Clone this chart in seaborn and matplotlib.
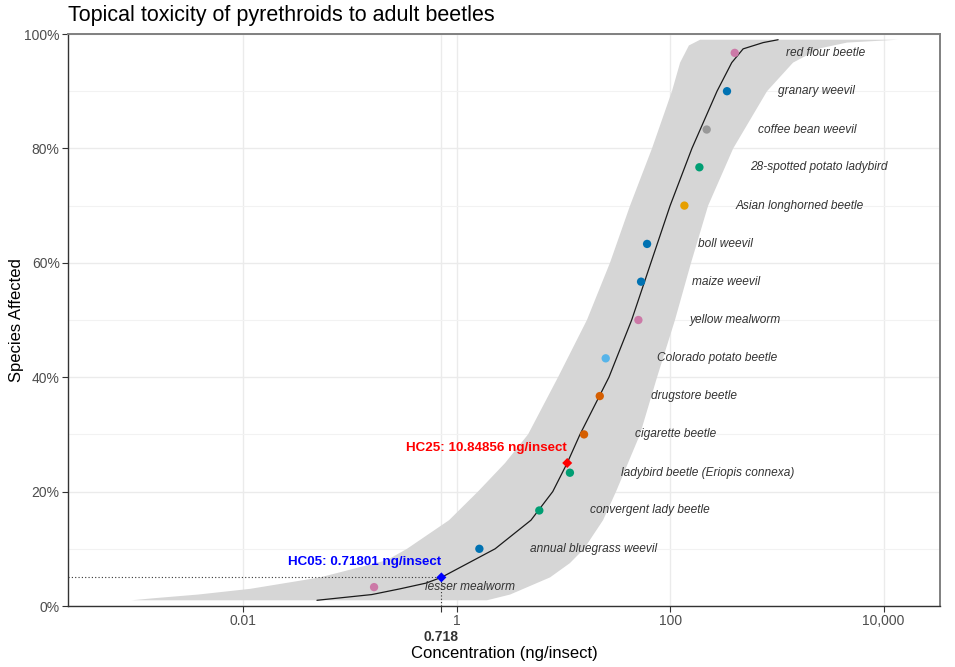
import numpy as np
import pandas as pd
import seaborn as sns
import matplotlib.pyplot as plt

# species sensitivity data
species = ["lesser mealworm", "annual bluegrass weevil", "convergent lady beetle",
           "ladybird beetle (Eriopis connexa)", "cigarette beetle", "drugstore beetle",
           "Colorado potato beetle", "yellow mealworm", "maize weevil", "boll weevil",
           "Asian longhorned beetle", "28-spotted potato ladybird", "coffee bean weevil",
           "granary weevil", "red flour beetle"]
conc = [0.168, 1.63, 5.94, 11.5, 15.6, 21.9, 24.9, 50.4, 53.4, 60.8, 136, 188, 220, 341, 403]
affected = [3.3, 10.0, 16.7, 23.3, 30.0, 36.7, 43.3, 50.0, 56.7, 63.3, 70.0, 76.7, 83.3, 90.0, 96.7]
family = ["Tenebrionidae", "Curculionidae", "Coccinellidae", "Coccinellidae", "Ptinidae",
          "Ptinidae", "Chrysomelidae", "Tenebrionidae", "Curculionidae", "Curculionidae",
          "Cerambycidae", "Coccinellidae", "Anthribidae", "Curculionidae", "Tenebrionidae"]
family_colors = {"Tenebrionidae": "#CC79A7", "Curculionidae": "#0072B2",
                 "Coccinellidae": "#009E73", "Ptinidae": "#D55E00",
                 "Chrysomelidae": "#56B4E9", "Cerambycidae": "#E69F00",
                 "Anthribidae": "#999999"}

# fitted curve
curve_pct = [1, 2, 3, 4, 5, 10, 15, 20, 25, 30, 40, 50, 60, 70, 80, 90, 95, 97.4, 98.5, 99]
curve_conc = [0.049, 0.160, 0.294, 0.515, 0.718, 2.29, 4.96, 7.94, 10.85, 14.3, 26.7,
              43.6, 66.0, 100, 160, 275, 378, 483, 745, 1028]

# confidence band edges
lower_pct = [1, 1.35, 2, 3, 5, 8, 10, 15, 20, 25, 30, 40, 50, 60, 70, 80, 90, 95, 98, 99]
lower_conc = [0.0009, 0.00143, 0.00376, 0.0116, 0.0524, 0.221, 0.342, 0.847, 1.58, 2.84,
              4.66, 8.90, 16.6, 27.3, 42.1, 67.6, 104, 124, 150, 191]
upper_pct = [1, 2, 5, 7.5, 10, 15, 20, 30, 40, 50, 60, 70, 80, 90, 95, 97.5, 98.5, 99]
upper_conc = [1.92, 3.16, 7.49, 11.5, 15.6, 23.5, 31.1, 52.2, 75.4, 111, 157, 227, 390,
              809, 1419, 2542, 4550, 13680]

# hazard concentrations
hc_pct = [5, 25]
hc_conc = [0.71801, 10.84856]
hc_colors = ["#0000FF", "#FF0000"]

x_ticks = [0.01, 0.718, 1, 100, 10000]
x_ticklabels = ["0.01", "0.718", "1", "100", "10,000"]

sns.set_theme(style="whitegrid")
plt.rcParams['font.family'] = ['Liberation Sans', 'DejaVu Sans']

fig = plt.figure(figsize=(9.55, 6.67), dpi=100)
ax = fig.add_axes([68 / 955, 1 - 606 / 667, (940 - 68) / 955, (606 - 34) / 667])
ax.set_xscale('log')
xmin, xmax = 10 ** -3.643, 10 ** 4.529

band_x = lower_conc + upper_conc[::-1]
band_y = lower_pct + upper_pct[::-1]
ax.fill(band_x, band_y, color='#d6d6d6', lw=0, zorder=1)

df_curve = pd.DataFrame({'conc': curve_conc, 'pct': curve_pct})
sns.lineplot(data=df_curve, x='conc', y='pct', sort=False, estimator=None,
             color='#1a1a1a', lw=0.9, ax=ax, zorder=3)

# HC05 guide lines
ax.plot([xmin, hc_conc[0]], [hc_pct[0], hc_pct[0]], ls=(0, (1, 2)), color='#333333', lw=0.8, zorder=2)
ax.plot([hc_conc[0], hc_conc[0]], [0, hc_pct[0]], ls=(0, (1, 2)), color='#333333', lw=0.8, zorder=2)

df = pd.DataFrame({'species': species, 'conc': conc, 'pct': affected, 'family': family})
sns.scatterplot(data=df, x='conc', y='pct', hue='family', palette=family_colors,
                s=36, edgecolor='none', legend=False, ax=ax, zorder=4)
for name, c, p in zip(species, conc, affected):
    ax.text(c * 3, p, name, ha='left', va='center', fontsize=8.6, style='italic',
            color='#333333', zorder=5)

for c, p, col in zip(hc_conc, hc_pct, hc_colors):
    ax.scatter([c], [p], marker='D', s=26, color=col, edgecolor='none', zorder=6)
    ax.text(c, p + 2.7, f"HC{p:02d}: {c} ng/insect", ha='right', va='center',
            fontsize=9.6, fontweight='bold', color=col, zorder=6)

ax.set_xlim(xmin, xmax)
ax.set_ylim(0, 100)
ax.set_xticks(x_ticks)
ax.set_xticklabels(x_ticklabels)
ax.xaxis.set_minor_locator(plt.NullLocator())
ax.set_yticks([0, 20, 40, 60, 80, 100])
ax.set_yticklabels([f"{v}%" for v in [0, 20, 40, 60, 80, 100]])
ax.set_yticks([10, 30, 50, 70, 90], minor=True)

ax.grid(True, which='major', color='#ebebeb', lw=1.0)
ax.grid(True, which='minor', axis='y', color='#f2f2f2', lw=0.8)
ax.tick_params(axis='both', which='major', labelsize=10, labelcolor='#4d4d4d',
               length=4, width=0.8, color='#333333', direction='out', bottom=True, left=True, pad=2)
ax.tick_params(axis='y', which='minor', length=0)

# the HC05 tick sits on a second line, in bold
hc_tick = ax.xaxis.get_major_ticks()[1]
hc_tick.set_pad(13)
hc_tick.label1.set_fontweight('bold')
hc_tick.label1.set_color('#333333')

for side in ['top', 'right']:
    ax.spines[side].set_color('#808080')
    ax.spines[side].set_linewidth(1.4)
for side in ['left', 'bottom']:
    ax.spines[side].set_color('#333333')
    ax.spines[side].set_linewidth(1.0)

ax.set_xlabel('Concentration (ng/insect)', fontsize=12, color='black', labelpad=2)
ax.set_ylabel('Species Affected', fontsize=12, color='black', labelpad=0)
ax.set_title('Topical toxicity of pyrethroids to adult beetles', fontsize=15.5,
             loc='left', color='black', pad=9)

fig.savefig('out.png', dpi=100)
